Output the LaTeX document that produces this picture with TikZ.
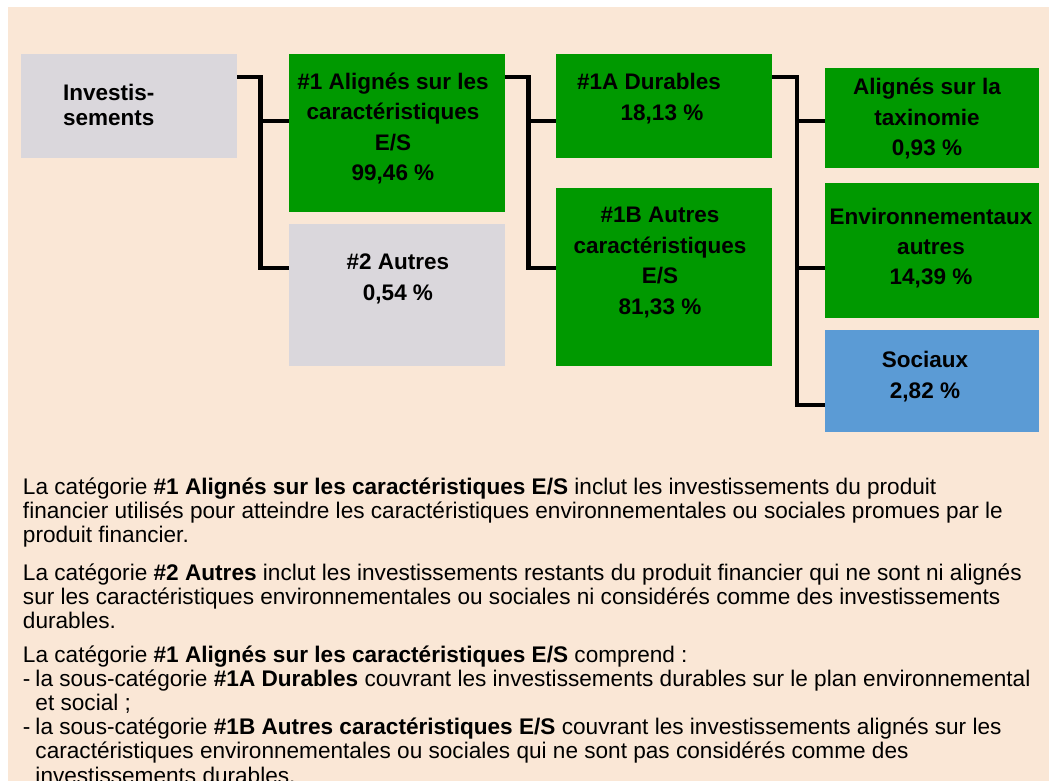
\documentclass[tikz,border=0pt]{standalone}
\usepackage{fontspec}
\setmainfont{Liberation Sans}
\definecolor{peach}{HTML}{FAE7D6}
\definecolor{boxgray}{HTML}{DAD7DC}
\definecolor{boxgreen}{HTML}{009900}
\definecolor{boxblue}{HTML}{5B9BD5}
\begin{document}
\begin{tikzpicture}[x=1pt,y=-1pt,
  box/.style={draw=none, inner sep=0pt, outer sep=0pt, anchor=north west},
  conn/.style={line width=4.5pt, black, line join=miter},
  lbl/.style={inner sep=0pt, outer sep=0pt, anchor=base, font=\fontsize{22.5}{#1}\selectfont\bfseries},
  body/.style={inner sep=0pt, outer sep=0pt, anchor=base west, font=\fontsize{22.6}{24.2}\selectfont}]
\useasboundingbox (0,0) rectangle (1053,781);
\clip (0,0) rectangle (1053,781);
\fill[white] (0,0) rectangle (1053,781);
\fill[peach] (8,7) rectangle (1049,781);

% boxes
\node[box, fill=boxgray,  minimum width=216pt, minimum height=104pt] (inv) at (21,54) {};
\node[box, fill=boxgreen, minimum width=216pt, minimum height=158pt] (n1)  at (289,54) {};
\node[box, fill=boxgray,  minimum width=216pt, minimum height=142pt] (n2)  at (289,224) {};
\node[box, fill=boxgreen, minimum width=216pt, minimum height=104pt] (n1a) at (556,54) {};
\node[box, fill=boxgreen, minimum width=216pt, minimum height=178pt] (n1b) at (556,188) {};
\node[box, fill=boxgreen, minimum width=214pt, minimum height=100pt] (tax) at (825,68) {};
\node[box, fill=boxgreen, minimum width=214pt, minimum height=135pt] (env) at (825,183) {};
\node[box, fill=boxblue,  minimum width=214pt, minimum height=102pt] (soc) at (825,330) {};

% labels
\node[lbl=25, anchor=base west] (tinv) at (63,100.6) {\begin{tabular}[t]{@{}l@{}}Investis-\\sements\end{tabular}};
\node[lbl=30.4] (tn1) at (393,89.6) {\begin{tabular}[t]{@{}c@{}}\#1 Alignés sur les\\caractéristiques\\E/S\\99,46 \%\end{tabular}};
\node[lbl=31] (tn2) at (398,269.6) {\begin{tabular}[t]{@{}c@{}}\#2 Autres\\0,54 \%\end{tabular}};
\node[lbl=31] (tn1a) at (662,89.6) {\begin{tabular}[t]{@{}c@{}}\#1A Durables\hspace*{26pt}\\18,13 \%\end{tabular}};
\node[lbl=30.7] (tn1b) at (660,222.6) {\begin{tabular}[t]{@{}c@{}}\#1B Autres\\caractéristiques\\E/S\\81,33 \%\end{tabular}};
\node[lbl=30.5] (ttax) at (927,94.6) {\begin{tabular}[t]{@{}c@{}}Alignés sur la\\taxinomie\\0,93 \%\end{tabular}};
\node[lbl=30] (tenv) at (931,224.6) {\begin{tabular}[t]{@{}c@{}}Environnementaux\\autres\\14,39 \%\end{tabular}};
\node[lbl=31] (tsoc) at (925,367.6) {\begin{tabular}[t]{@{}c@{}}Sociaux\\2,82 \%\end{tabular}};

% connector bus points
\coordinate (b1t) at (260.5,77);
\coordinate (b1a) at (260.5,121);
\coordinate (b1b) at (260.5,268);
\coordinate (b2t) at (528.5,77);
\coordinate (b2a) at (528.5,121);
\coordinate (b2b) at (528.5,268);
\coordinate (b3t) at (797,77);
\coordinate (b3a) at (797,121);
\coordinate (b3b) at (797,268);
\coordinate (b3c) at (797,405);

\draw[conn] (inv.east |- b1t) -- (b1t) -- (b1b) -- (n2.west |- b1b);
\draw[conn] (b1a) -- (n1.west |- b1a);
\draw[conn] (n1.east |- b2t) -- (b2t) -- (b2b) -- (n1b.west |- b2b);
\draw[conn] (b2a) -- (n1a.west |- b2a);
\draw[conn] (n1a.east |- b3t) -- (b3t) -- (b3c) -- (soc.west |- b3c);
\draw[conn] (b3a) -- (tax.west |- b3a);
\draw[conn] (b3b) -- (env.west |- b3b);

% body text
\node[body] (p1) at (23,494) {\begin{tabular}[t]{@{}l@{}}
La catégorie \textbf{\#1 Alignés sur les caractéristiques E/S} inclut les investissements du produit\\
financier utilisés pour atteindre les caractéristiques environnementales ou sociales promues par le\\
produit financier.\end{tabular}};
\node[body] (p2) at (23,580) {\begin{tabular}[t]{@{}l@{}}
La catégorie \textbf{\#2 Autres} inclut les investissements restants du produit financier qui ne sont ni alignés\\
sur les caractéristiques environnementales ou sociales ni considérés comme des investissements\\
durables.\end{tabular}};
\node[body] (p3) at (23,662) {\begin{tabular}[t]{@{}l@{}}
La catégorie \textbf{\#1 Alignés sur les caractéristiques E/S} comprend :\\
\makebox[12.5pt][l]{-}la sous-catégorie \textbf{\#1A Durables} couvrant les investissements durables sur le plan environnemental\\
\hspace*{12.5pt}et social ;\\
\makebox[12.5pt][l]{-}la sous-catégorie \textbf{\#1B Autres caractéristiques E/S} couvrant les investissements alignés sur les\\
\hspace*{12.5pt}caractéristiques environnementales ou sociales qui ne sont pas considérés comme des\\
\hspace*{12.5pt}investissements durables.\end{tabular}};
\end{tikzpicture}
\end{document}
